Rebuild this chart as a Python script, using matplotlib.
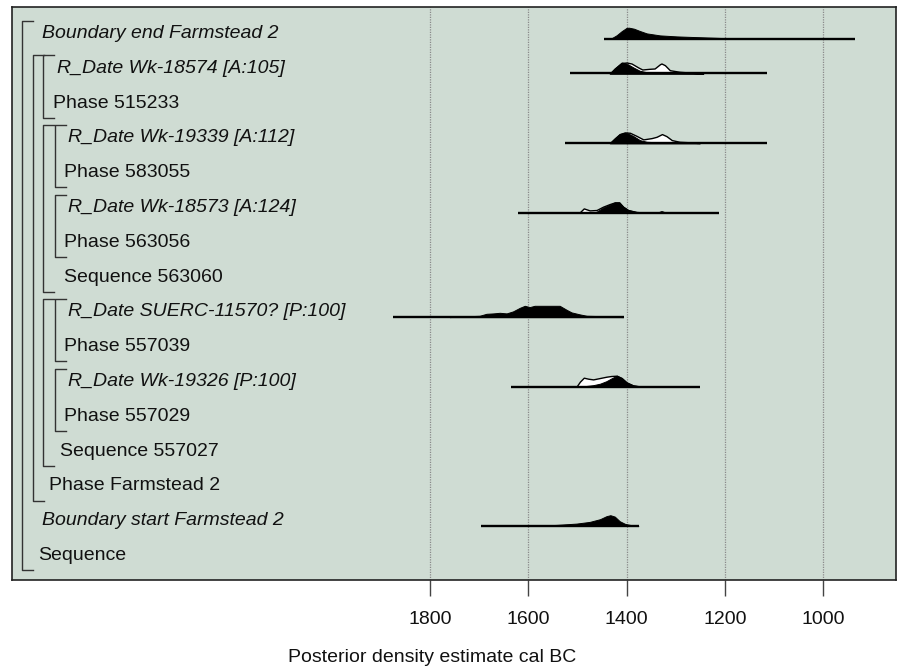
import numpy as np
import matplotlib.pyplot as plt
from matplotlib.transforms import blended_transform_factory

plt.rcParams['font.family'] = ['Liberation Sans', 'DejaVu Sans']

labels = ["Boundary end Farmstead 2", "R_Date Wk-18574 [A:105]", "Phase 515233",
          "R_Date Wk-19339 [A:112]", "Phase 583055", "R_Date Wk-18573 [A:124]",
          "Phase 563056", "Sequence 563060", "R_Date SUERC-11570? [P:100]",
          "Phase 557039", "R_Date Wk-19326 [P:100]", "Phase 557029",
          "Sequence 557027", "Phase Farmstead 2", "Boundary start Farmstead 2", "Sequence"]
italic_rows = [0, 1, 3, 5, 8, 10, 14]

# brackets: (depth, first row, last row)
brackets = [(0, 0, 15), (1, 1, 13), (2, 1, 2), (2, 3, 7), (3, 3, 4),
            (3, 5, 6), (2, 8, 12), (3, 8, 9), (3, 10, 11)]

# range line of each distribution (cal BC)
ranges = {0: (1446, 936), 1: (1515, 1115), 3: (1525, 1115), 5: (1620, 1212),
          8: (1875, 1405), 10: (1635, 1251), 14: (1696, 1375)}

# posterior (black) - cal BC and relative density (peak ~11)
post_bc = {
    0: [1432, 1420, 1410, 1400, 1395, 1385, 1373, 1359, 1332, 1298, 1265, 1224, 1197, 1150, 1100],
    1: [1434, 1424, 1410, 1400, 1386, 1373, 1359, 1332, 1265, 1245],
    3: [1434, 1424, 1414, 1405, 1397, 1386, 1373, 1359, 1332, 1278, 1255],
    5: [1471, 1461, 1448, 1434, 1424, 1415, 1407, 1397, 1380, 1366, 1336, 1329, 1322, 1312],
    8: [1760, 1732, 1699, 1685, 1671, 1658, 1644, 1631, 1617, 1607, 1597, 1587, 1563, 1536,
        1522, 1512, 1495, 1481, 1454, 1427, 1407],
    10: [1495, 1468, 1454, 1441, 1430, 1420, 1410, 1400, 1386, 1373, 1359],
    14: [1597, 1542, 1502, 1475, 1454, 1441, 1433, 1424, 1414, 1403, 1390, 1376],
}
post_d = {
    0: [0, 3.5, 7.5, 10.8, 11, 10, 7.7, 5.3, 3.3, 2.3, 1.7, 1.0, 0.5, 0.2, 0],
    1: [0, 5, 11, 10, 6, 2.7, 1.3, 0.7, 0.3, 0],
    3: [0, 4.7, 9, 10.3, 9.7, 7, 3, 1.3, 0.7, 0.3, 0],
    5: [0, 1, 5, 8, 10.3, 10.3, 6, 2.7, 0.7, 0.2, 0.2, 1.3, 0.3, 0],
    8: [0, 0.7, 1.3, 3.3, 3.7, 4.3, 3.7, 5.7, 9.3, 11.3, 10, 11.3, 11.3, 11.3,
        7.3, 4.7, 2.7, 1.3, 1, 0.3, 0],
    10: [0, 1.5, 3, 5.5, 8.5, 11, 8.7, 4.3, 1.3, 0.3, 0],
    14: [0, 1, 2.3, 4, 6.7, 9.7, 10.7, 9.3, 4.7, 2, 0.7, 0],
}

# likelihood (white, outlined)
lik_bc = {
    1: [1434, 1424, 1410, 1400, 1390, 1376, 1368, 1353, 1343, 1332, 1329, 1322, 1312, 1292, 1265, 1244],
    3: [1434, 1424, 1414, 1403, 1393, 1380, 1366, 1349, 1339, 1328, 1319, 1308, 1292, 1268, 1251],
    5: [1496, 1487, 1475, 1461, 1448, 1434, 1424, 1415, 1407, 1397, 1380, 1366, 1336, 1329, 1322, 1312],
    10: [1502, 1495, 1487, 1478, 1468, 1454, 1441, 1431, 1420, 1410, 1400, 1387, 1373, 1359],
}
lik_d = {
    1: [0, 5, 10.5, 11, 10, 6, 4, 4.7, 5, 9.3, 10, 8.3, 3.3, 1.7, 0.7, 0],
    3: [0, 4.7, 9, 10.7, 10.3, 7.3, 3.7, 5, 6.3, 9, 7, 3, 1.3, 0.7, 0],
    5: [0, 4.3, 2.3, 2.7, 6, 8.7, 10.3, 10.3, 6, 2.7, 0.7, 0.2, 0.2, 1.3, 0.3, 0],
    10: [0, 5, 9, 8, 7.3, 8.7, 10, 10.7, 11, 8.7, 4.3, 1.3, 0.3, 0],
}

ticks = [1800, 1600, 1400, 1200, 1000]

# layout (pixels of the 898x668 figure)
W, H = 898, 668
ax_l, ax_r, ax_t, ax_b = 12, 896, 7, 580
row0_px, row_px = 38.7, 34.8
label_x = [41.7, 57.3, 53.3, 68.3, 64.3, 68.3, 64.3, 64.3, 68.3, 64.3, 68.3, 64.3, 60, 49, 41.7, 37.7]
bracket_x = [21.7, 33.3, 43.3, 55.0]
k = 1.0 / row_px  # one density unit = one pixel

fig = plt.figure(figsize=(W / 100, H / 100), dpi=100)
ax = fig.add_axes([ax_l / W, 1 - ax_b / H, (ax_r - ax_l) / W, (ax_b - ax_t) / H])
ax.set_facecolor('#CFDCD3')
ax.set_xlim(2650, 852)
ax.set_ylim((ax_b - row0_px) / row_px, -(row0_px - ax_t) / row_px)

for x in ticks:
    ax.axvline(x, color='#8a8a8a', lw=0.9, ls=(0, (1, 1)), zorder=1)

for r, (lo, hi) in ranges.items():
    if r in lik_bc:
        bc = np.array(lik_bc[r])
        d = np.array(lik_d[r])
        ax.fill_between(bc, r, r - d * k, facecolor='white', edgecolor='black', lw=1.0, zorder=3)
    bc = np.array(post_bc[r])
    d = np.array(post_d[r])
    ax.fill_between(bc, r, r - d * k, facecolor='black', edgecolor='black', lw=0.7, zorder=4)
    ax.plot([lo, hi], [r, r], color='black', lw=1.7, solid_capstyle='butt', zorder=5)

trans = blended_transform_factory(ax.transAxes, ax.transData)
fx = lambda px: (px - ax_l) / (ax_r - ax_l)
for depth, r0, r1 in brackets:
    x0 = fx(bracket_x[depth])
    x1 = fx(bracket_x[depth] + 11)
    top = r0 - 18 / row_px
    bot = r1 + 9.5 / row_px
    ax.plot([x1, x0, x0, x1], [top, top, bot, bot], color='#333333', lw=1.0,
            transform=trans, zorder=2)

for i, lab in enumerate(labels):
    ax.text(fx(label_x[i]), i - 0.15, lab, transform=trans, va='center', ha='left',
            fontsize=14, style='italic' if i in italic_rows else 'normal', color='#111111')

ax.set_yticks([])
ax.set_xticks(ticks)
ax.set_xticklabels([str(t) for t in ticks], fontsize=14, color='#111111')
ax.tick_params(axis='x', direction='out', length=11.5, width=1.0, color='#444444', pad=11)
for s in ax.spines.values():
    s.set_color('#222222')
    s.set_linewidth(1.2)

fig.text(432 / W, 1 - 657 / H, "Posterior density estimate cal BC", ha='center', va='center',
         fontsize=14, color='#111111')

plt.savefig("out.png", dpi=100)
